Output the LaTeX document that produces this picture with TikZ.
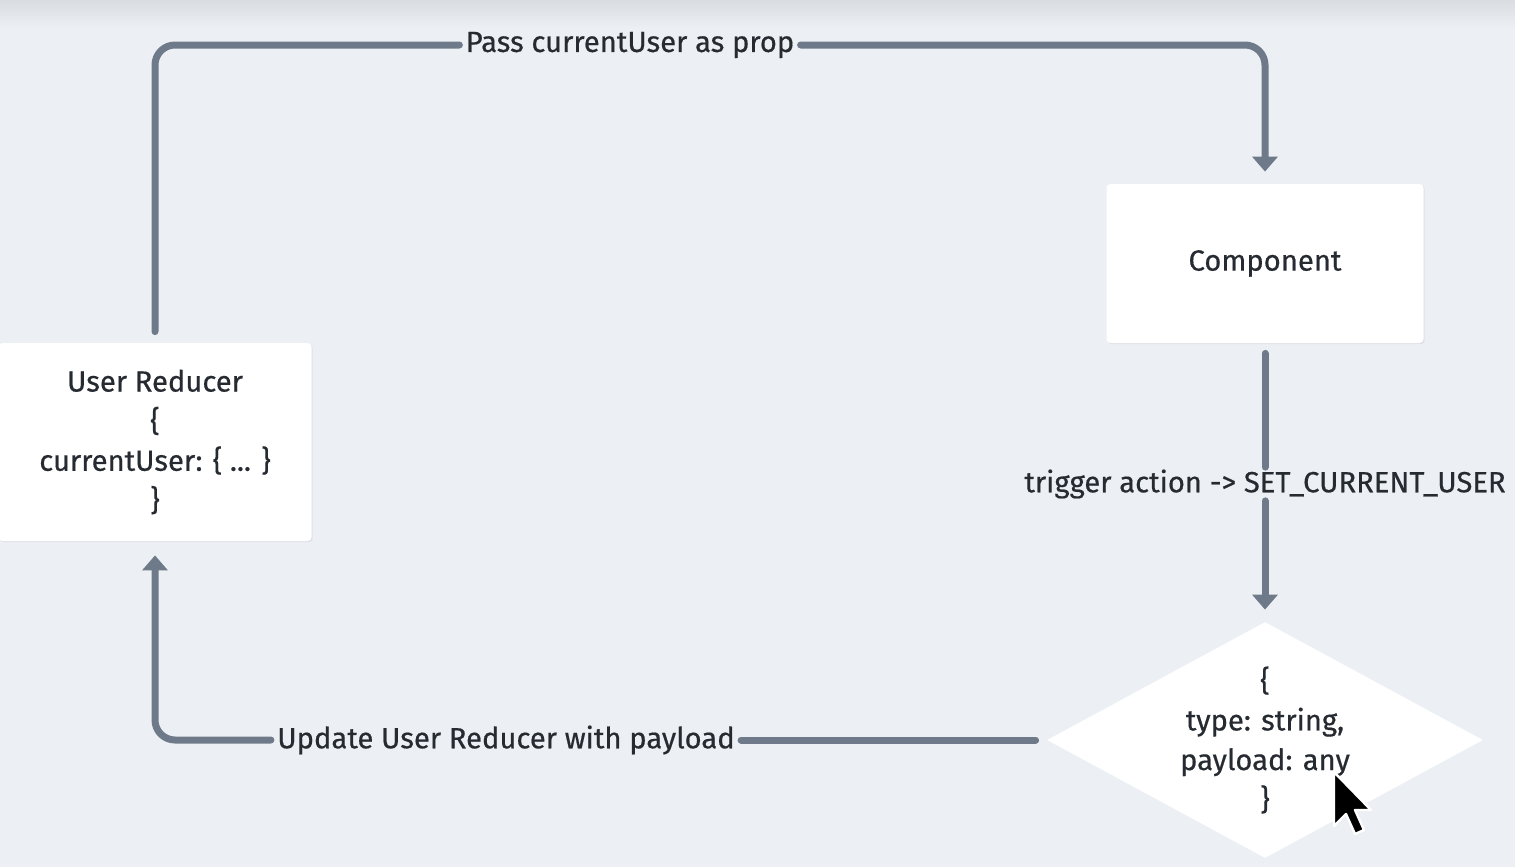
\documentclass[tikz,border=0pt]{standalone}
\usepackage{fontspec}
\setmainfont{Fira Sans}[FakeBold=0.5]
\usetikzlibrary{arrows.meta,shapes.geometric,shadows}
\definecolor{bg}{HTML}{ECF0F4}
\definecolor{topbg}{HTML}{D9DDE1}
\definecolor{conn}{HTML}{6E7A89}
\definecolor{txt}{HTML}{262B32}
\tikzset{
  box/.style={fill=white, draw=none, rounded corners=2pt, inner sep=0pt,
    drop shadow={shadow xshift=0.6pt, shadow yshift=-0.6pt, opacity=0.06, fill=black}},
  dia/.style={diamond, fill=white, draw=none, inner sep=0pt, aspect=1.85,
    minimum width=218pt, minimum height=118pt},
  lbl/.style={text=txt, font=\fontsize{14.6}{19.8}\selectfont, inner xsep=3pt, inner ysep=3pt, align=center},
  conn/.style={draw=conn, line width=3.5pt, line cap=round, rounded corners=10pt},
  tip/.style={-{Triangle[width=12.5pt,length=7.5pt]}},
}
\begin{document}
\begin{tikzpicture}[x=0.5pt,y=-0.5pt]
  \fill[bg] (0,0) rectangle (1515,867);
  \shade[top color=topbg, bottom color=bg] (0,0) rectangle (1515,28);
  \useasboundingbox (0,0) rectangle (1515,867);

  % nodes
  \node[box, minimum width=156.5pt, minimum height=99pt] (ur) at (155,442) {};
  \node[lbl] (urt) at (ur.center) {User Reducer\\\{\\currentUser: \{ ... \}\\\}};
  \node[box, minimum width=158.5pt, minimum height=79.5pt] (comp) at (1265,263.5) {};
  \node[lbl] (compt) at (comp.center) {Component};
  \node[dia] (act) at (1265,740) {};
  \node[lbl] (actt) at (act.center) {\{\\type: string,\\payload: any\\\}};

  % labels
  \node[lbl] (l1) at (630,45) {Pass currentUser as prop};
  \node[lbl, inner ysep=1pt] (l2) at (1265,484) {trigger action -> SET\_CURRENT\_USER};
  \node[lbl] (l3) at (506,740) {Update User Reducer with payload};

  % connectors
  \draw[conn, shorten <=5.5pt] (ur.north) |- (l1.west);
  \draw[conn, tip, shorten >=6pt] (l1.east) -| (comp.north);
  \draw[conn, shorten <=5pt] (comp.south) -- (l2.north);
  \draw[conn, tip, shorten >=6pt] (l2.south) -- (act.north);
  \draw[conn, shorten <=5.5pt] (act.west) -- (l3.east);
  \draw[conn, tip, shorten >=7pt] (l3.west) -| (ur.south);

  % mouse cursor
  \filldraw[fill=black, draw=white, line width=1.2pt, line join=round]
    (1334,772) -- (1334,826) -- (1346,814) -- (1355,834) -- (1364,830)
    -- (1355,810) -- (1371,810) -- cycle;
\end{tikzpicture}
\end{document}
